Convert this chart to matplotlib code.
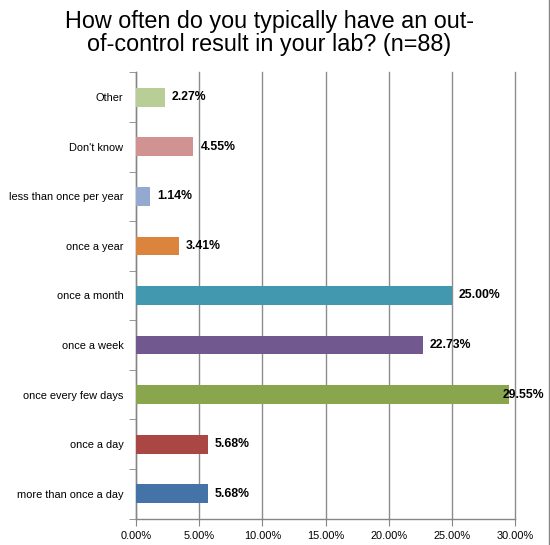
import matplotlib
matplotlib.use("Agg")
import matplotlib.pyplot as plt
from matplotlib.ticker import FuncFormatter, MultipleLocator, FixedLocator
import numpy as np

categories = ["more than once a day", "once a day", "once every few days", "once a week",
              "once a month", "once a year", "less than once per year", "Don't know", "Other"]
values = [5.68, 5.68, 29.55, 22.73, 25.00, 3.41, 1.14, 4.55, 2.27]
colors = ["#4572A7", "#AA4643", "#89A54E", "#71588F", "#4198AF", "#DB843D",
          "#93A9CF", "#D19392", "#B9CD96"]
title = "How often do you typically have an out-\nof-control result in your lab? (n=88)"

fig = plt.figure(figsize=(5.5, 5.45), dpi=100)
ax = fig.add_axes([0.2473, 0.0486, 0.6891, 0.8184])

y = np.arange(len(categories))
ax.barh(y, values, height=0.38, color=colors, zorder=3)
ax.set_xlim(0, 30)
ax.set_ylim(-0.5, len(categories) - 0.5)
ax.xaxis.set_major_locator(MultipleLocator(5))
ax.xaxis.set_major_formatter(FuncFormatter(lambda v, p: f"{v:.2f}%"))
ax.set_yticks(y)
ax.set_yticklabels(categories)
ax.yaxis.set_minor_locator(FixedLocator(np.arange(-0.5, len(categories), 1.0)))
ax.tick_params(axis="y", which="major", length=0, pad=9)
ax.tick_params(axis="y", which="minor", length=5, color="#868686", direction="out")
ax.tick_params(axis="x", length=5, color="#868686", direction="out", pad=4)
for lab in ax.get_yticklabels() + ax.get_xticklabels():
    lab.set_fontfamily("Liberation Sans")
    lab.set_fontsize(7.9)
    lab.set_color("#000000")

ax.grid(axis="x", color="#8C8C8C", linewidth=1, zorder=0)
for gl in ax.get_xgridlines():
    gl.set_clip_on(False)
for s in ["top", "right"]:
    ax.spines[s].set_visible(False)
for s in ["left", "bottom"]:
    ax.spines[s].set_color("#868686")
    ax.spines[s].set_linewidth(1)

for yi, v in zip(y, values):
    if v > 28:
        ax.annotate(f"{v:.2f}%", xy=(v, yi), xytext=(-5, 0), textcoords="offset points",
                    ha="left", va="center", fontsize=8.8, fontweight="bold",
                    family="Liberation Sans", zorder=4, annotation_clip=False)
    else:
        ax.annotate(f"{v:.2f}%", xy=(v, yi), xytext=(5, 0), textcoords="offset points",
                    ha="left", va="center", fontsize=8.8, fontweight="bold",
                    family="Liberation Sans", zorder=4)

fig.text(0.49, 0.982, title, ha="center", va="top", fontsize=16.8,
         family="Liberation Sans", linespacing=1.02)

fig.add_artist(plt.Line2D([0.998, 0.998], [0, 1], transform=fig.transFigure,
                          color="#868686", linewidth=1))

fig.savefig("out.png", dpi=100)
